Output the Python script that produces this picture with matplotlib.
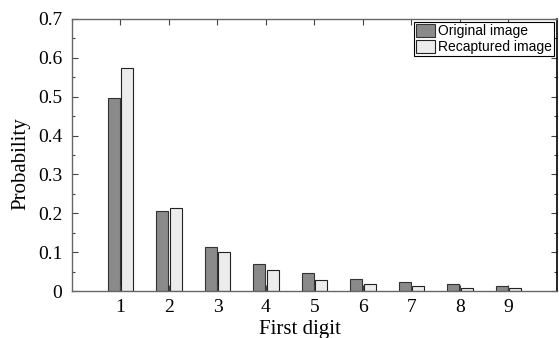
import matplotlib
matplotlib.use('Agg')
import matplotlib.pyplot as plt
from matplotlib.ticker import MultipleLocator, FuncFormatter

digits = [1, 2, 3, 4, 5, 6, 7, 8, 9]
original = [0.497, 0.205, 0.113, 0.069, 0.046, 0.031, 0.023, 0.018, 0.013]
recaptured = [0.573, 0.213, 0.100, 0.054, 0.028, 0.018, 0.012, 0.009, 0.008]

plt.rcParams['font.family'] = 'Liberation Serif'

fig = plt.figure(figsize=(5.59, 3.38), dpi=100)
ax = fig.add_axes([0.1288, 0.139, 0.8676, 0.8048])

w = 0.24
ax.bar([d - 0.14 for d in digits], original, width=w, color='#8a8a8a',
       edgecolor='#333333', linewidth=0.8, label='Original image')
ax.bar([d + 0.14 for d in digits], recaptured, width=w, color='#ececec',
       edgecolor='#222222', linewidth=0.8, label='Recaptured image')

ax.set_xlim(0, 10)
ax.set_ylim(0, 0.7)
ax.set_xticks(digits)
ax.yaxis.set_major_locator(MultipleLocator(0.1))
ax.yaxis.set_minor_locator(MultipleLocator(0.05))
ax.yaxis.set_major_formatter(FuncFormatter(lambda v, p: '0' if abs(v) < 1e-9 else '%.1f' % v))
ax.tick_params(axis='both', which='both', direction='in', top=True, right=True,
               labelsize=14, color='#444444')
ax.tick_params(axis='both', which='major', length=4, width=0.8)
ax.tick_params(axis='y', which='minor', length=2.5, width=0.8)
ax.tick_params(axis='x', which='major', pad=6)
ax.tick_params(axis='y', which='major', pad=7)

for s in ['left', 'bottom', 'top']:
    ax.spines[s].set_color('#666666')
    ax.spines[s].set_linewidth(1.0)
ax.spines['right'].set_color('black')
ax.spines['right'].set_linewidth(1.2)

ax.set_xlabel('First digit', fontsize=15)
ax.xaxis.set_label_coords(0.47, -0.105)
ax.set_ylabel('Probability', fontsize=15)
ax.yaxis.set_label_coords(-0.085, 0.47)

leg = ax.legend(loc='upper right', prop={'family': 'Liberation Sans', 'size': 10},
                fancybox=False, framealpha=1, edgecolor='black',
                borderpad=0.15, handlelength=1.4, handleheight=1.1,
                handletextpad=0.2, labelspacing=0.1, borderaxespad=0.2)
leg.get_frame().set_linewidth(0.8)

fig.savefig('out.png', dpi=100)
